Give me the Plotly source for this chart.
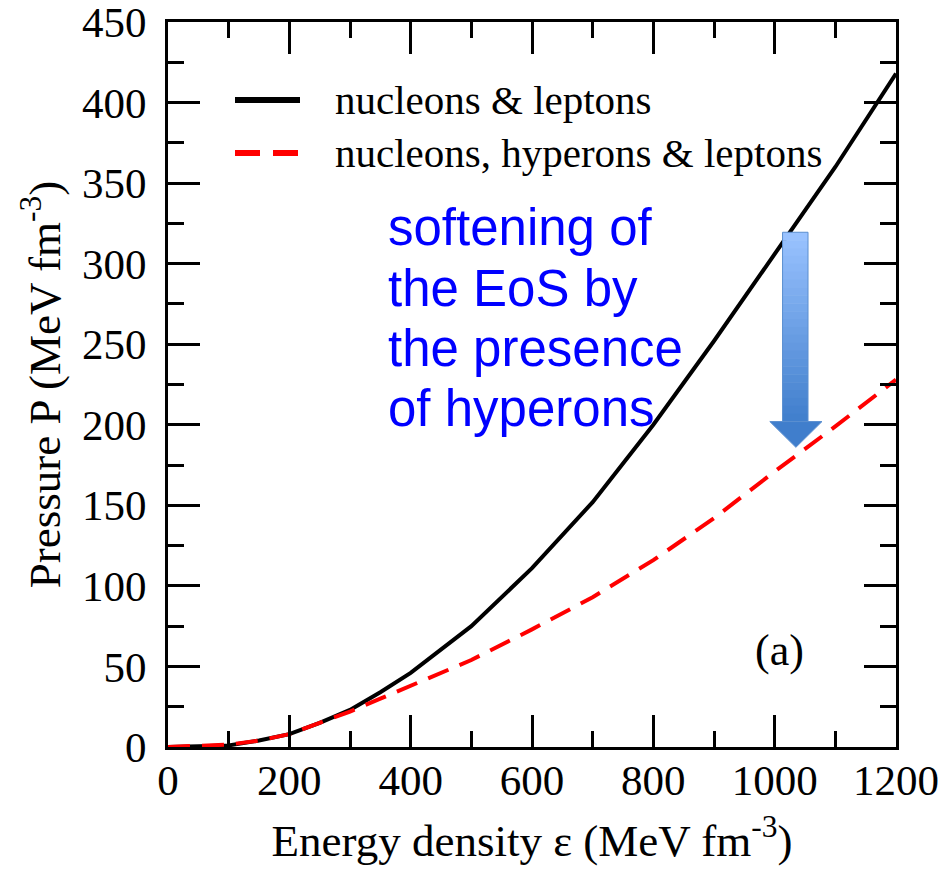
import plotly.graph_objects as go

# Data
energy = [0, 50, 100, 150, 200, 250, 300, 350, 400, 500, 600, 700, 800, 900, 1000, 1100, 1200]
p_nucleons = [0, 0.5, 1, 4, 8, 15, 23, 34, 46, 75, 111, 152, 200, 252, 306, 360, 418]
p_hyperons = [0, 0.5, 1.5, 4, 8, 15, 22, 30, 38, 54, 73, 93, 116, 142, 171, 199, 228]
x_ticks = [0, 200, 400, 600, 800, 1000, 1200]
y_ticks = [0, 50, 100, 150, 200, 250, 300, 350, 400, 450]

name_nl = "nucleons & leptons"
name_nhl = "nucleons, hyperons & leptons"
annot_lines = ["softening of", "the EoS by", "the presence", "of hyperons"]

serif = "Liberation Serif, Times New Roman, Times, serif"
sans = "Liberation Sans, Arial, sans-serif"

# plot-area geometry in pixels (for paper-coordinate decorations)
L, R, T, B = 168, 896, 22, 747
W, H = 940, 872


def px(xp):
    return (xp - L) / (R - L)


def py(yp):
    return (B - yp) / (B - T)


fig = go.Figure()
fig.add_trace(go.Scatter(x=energy, y=p_nucleons, mode="lines", name=name_nl, showlegend=False,
                         line=dict(color="black", width=4)))
fig.add_trace(go.Scatter(x=energy, y=p_hyperons, mode="lines", name=name_nhl, showlegend=False,
                         line=dict(color="#ff0000", width=4, dash="22px,12px")))

common = dict(
    showline=True, linecolor="black", linewidth=3, mirror="ticks",
    ticks="inside", ticklen=32, tickwidth=3, tickcolor="black",
    showgrid=False, zeroline=False, automargin=False,
    ticklabeloverflow="allow",
)

fig.update_xaxes(range=[0, 1200], tickmode="array", tickvals=x_ticks,
                 ticktext=[str(v) for v in x_ticks],
                 tickfont=dict(family=serif, size=43, color="black"),
                 ticklabelstandoff=-7,
                 minor=dict(dtick=100, tick0=0, ticks="inside", ticklen=16, tickwidth=3, tickcolor="black"),
                 title=dict(text="Energy density ε (MeV fm<sup>-3</sup>)",
                            font=dict(family=serif, size=45, color="black"), standoff=22),
                 **common)
fig.update_yaxes(range=[0, 450], tickmode="array", tickvals=y_ticks,
                 ticktext=[str(v) for v in y_ticks],
                 tickfont=dict(family=serif, size=43, color="black"),
                 ticklabelstandoff=10,
                 minor=dict(dtick=25, tick0=0, ticks="inside", ticklen=16, tickwidth=3, tickcolor="black"),
                 title=dict(text="Pressure P (MeV fm<sup>-3</sup>)",
                            font=dict(family=serif, size=45, color="black"), standoff=8),
                 **common)

# Gradient block arrow (stacked stripes for the shaft)
x0, x1 = 1013, 1055
y_top, y_head = 319.5, 202
n = 24
c_top = (153, 194, 255)
c_bot = (66, 128, 205)
shapes = []
for i in range(n):
    t = i / (n - 1)
    c = tuple(int(c_top[k] + (c_bot[k] - c_top[k]) * t) for k in range(3))
    ya = y_top - (y_top - y_head) * i / n
    yb = y_top - (y_top - y_head) * (i + 1) / n
    shapes.append(dict(type="rect", xref="x", yref="y", x0=x0, x1=x1, y0=yb - 0.3, y1=ya,
                       fillcolor="rgb(%d,%d,%d)" % c, line=dict(width=0), layer="above"))
shapes.append(dict(type="rect", xref="x", yref="y", x0=x0, x1=x1, y0=y_head, y1=y_top,
                   fillcolor="rgba(0,0,0,0)", line=dict(color="#5b8fd0", width=1), layer="above"))
shapes.append(dict(type="path", xref="x", yref="y",
                   path="M 992 %f L 1078 %f L 1035 186 Z" % (y_head, y_head),
                   fillcolor="rgb(64,126,204)", line=dict(color="#5b8fd0", width=1), layer="above"))

# Manual legend (line samples + labels)
shapes.append(dict(type="line", xref="paper", yref="paper", x0=px(235), x1=px(300), y0=py(100), y1=py(100),
                   line=dict(color="black", width=6)))
shapes.append(dict(type="line", xref="paper", yref="paper", x0=px(235), x1=px(300), y0=py(153), y1=py(153),
                   line=dict(color="#ff0000", width=6, dash="25px,13px")))

annotations = [
    dict(x=px(333), y=py(100), xref="paper", yref="paper", xanchor="left", yanchor="middle",
         text=name_nl, showarrow=False, font=dict(family=serif, size=41, color="black")),
    dict(x=px(333), y=py(153), xref="paper", yref="paper", xanchor="left", yanchor="middle",
         text=name_nhl, showarrow=False, font=dict(family=serif, size=41, color="black")),
    dict(x=px(779), y=py(650), xref="paper", yref="paper", text="(a)", showarrow=False,
         xanchor="center", yanchor="middle", font=dict(family=serif, size=44, color="black")),
]
for i, line in enumerate(annot_lines):
    annotations.append(dict(x=px(386), y=py(228 + 60 * i), xref="paper", yref="paper",
                            xanchor="left", yanchor="middle", text=line, showarrow=False,
                            font=dict(family=sans, size=51, color="#0000ff")))

fig.update_layout(
    width=W, height=H,
    margin=dict(l=L, r=W - R, t=T, b=H - B),
    font=dict(family=serif, color="black"),
    plot_bgcolor="white", paper_bgcolor="white",
    shapes=shapes, annotations=annotations,
    showlegend=False,
)

fig.write_html("out.html")
